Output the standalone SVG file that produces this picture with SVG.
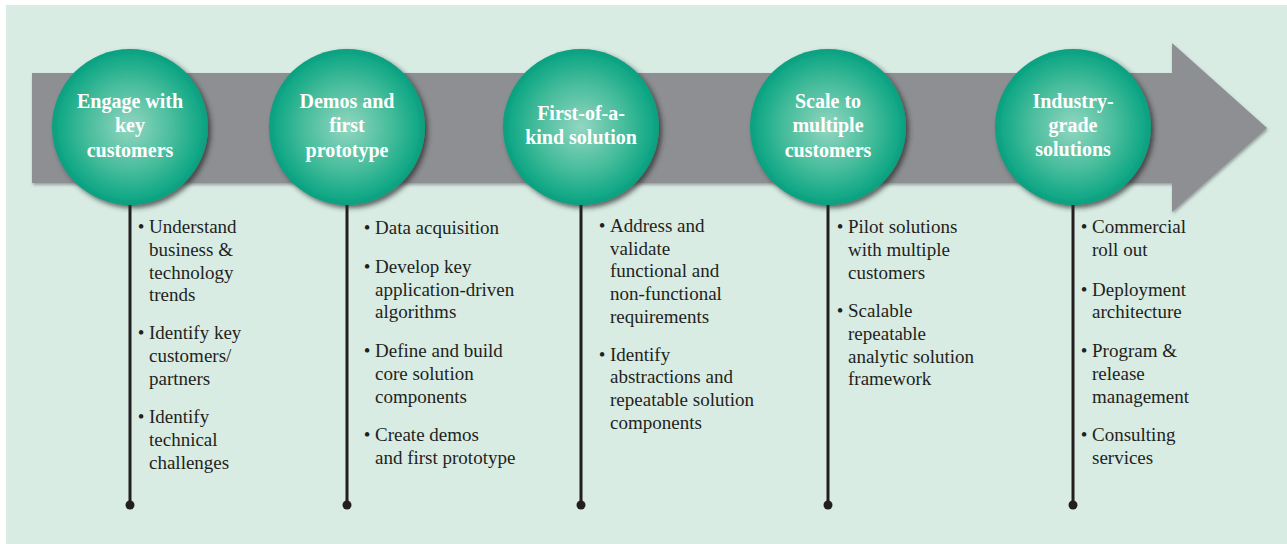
<svg xmlns="http://www.w3.org/2000/svg" width="1287" height="544" viewBox="0 0 1287 544">
<defs>
<radialGradient id="cg" cx="50%" cy="50%" r="50%">
<stop offset="0" stop-color="#92d6c0"/>
<stop offset="0.55" stop-color="#48bd9c"/>
<stop offset="0.9" stop-color="#14a987"/>
<stop offset="1" stop-color="#0a9f7f"/>
</radialGradient>
<filter id="cs" x="-20%" y="-20%" width="150%" height="150%">
<feDropShadow dx="3" dy="3" stdDeviation="2.5" flood-color="#2a2a2a" flood-opacity="0.7"/>
</filter>
<filter id="as" x="-5%" y="-10%" width="110%" height="130%">
<feDropShadow dx="1" dy="2" stdDeviation="1.5" flood-color="#555" flood-opacity="0.5"/>
</filter>
</defs>
<style>
.t{font-family:"Liberation Serif","Times New Roman",serif;font-size:19px;fill:#231f20}
.b{font-family:"Liberation Serif","Times New Roman",serif;font-size:19px;fill:#231f20;text-anchor:middle}
.h{font-family:"Liberation Serif","Times New Roman",serif;font-size:20px;font-weight:bold;fill:#ffffff;text-anchor:middle}
.ln{stroke:#231f20;stroke-width:3;fill:none}
.dot{fill:#231f20}
.circ{fill:url(#cg);filter:url(#cs)}
</style>
<rect x="0" y="0" width="1287" height="544" fill="#ffffff"/>
<rect x="6" y="5" width="1281" height="539" fill="#d8ece4"/>
<g id="arrow">
<polygon points="32,73 1172,73 1172,43 1267,128 1172,212 1172,183 32,183" fill="#8e8f93" filter="url(#as)"/>
</g>
<g id="connectors">
<line class="ln" x1="130" y1="200" x2="130" y2="505"/><circle class="dot" cx="130" cy="505" r="4.5"/>
<line class="ln" x1="347" y1="200" x2="347" y2="505"/><circle class="dot" cx="347" cy="505" r="4.5"/>
<line class="ln" x1="581" y1="200" x2="581" y2="505"/><circle class="dot" cx="581" cy="505" r="4.5"/>
<line class="ln" x1="828" y1="200" x2="828" y2="505"/><circle class="dot" cx="828" cy="505" r="4.5"/>
<line class="ln" x1="1073" y1="200" x2="1073" y2="505"/><circle class="dot" cx="1073" cy="505" r="4.5"/>
</g>
<g id="node1">
<circle class="circ" cx="130" cy="127" r="78"/>
<text class="h"><tspan x="130" y="108">Engage with</tspan><tspan x="130" y="132">key</tspan><tspan x="130" y="157">customers</tspan></text>
</g>
<g id="node2">
<circle class="circ" cx="347" cy="127" r="78"/>
<text class="h"><tspan x="347" y="108">Demos and</tspan><tspan x="347" y="132">first</tspan><tspan x="347" y="157">prototype</tspan></text>
</g>
<g id="node3">
<circle class="circ" cx="581" cy="127" r="78"/>
<text class="h"><tspan x="581" y="120">First-of-a-</tspan><tspan x="581" y="144">kind solution</tspan></text>
</g>
<g id="node4">
<circle class="circ" cx="828" cy="127" r="78"/>
<text class="h"><tspan x="828" y="108">Scale to</tspan><tspan x="828" y="132">multiple</tspan><tspan x="828" y="157">customers</tspan></text>
</g>
<g id="node5">
<circle class="circ" cx="1073" cy="127" r="78"/>
<text class="h"><tspan x="1073" y="108">Industry-</tspan><tspan x="1073" y="132">grade</tspan><tspan x="1073" y="156">solutions</tspan></text>
</g>
<g id="list1">
<text class="b" x="141" y="233">•</text>
<text class="t"><tspan x="149" y="233">Understand</tspan><tspan x="149" y="256">business &amp;</tspan><tspan x="149" y="278.5">technology</tspan><tspan x="149" y="301">trends</tspan></text>
<text class="b" x="141" y="339">•</text>
<text class="t"><tspan x="149" y="339">Identify key</tspan><tspan x="149" y="362">customers/</tspan><tspan x="149" y="385">partners</tspan></text>
<text class="b" x="141" y="423">•</text>
<text class="t"><tspan x="149" y="423">Identify</tspan><tspan x="149" y="446">technical</tspan><tspan x="149" y="469">challenges</tspan></text>
</g>
<g id="list2">
<text class="b" x="367" y="234">•</text>
<text class="t"><tspan x="375" y="234">Data acquisition</tspan></text>
<text class="b" x="367" y="273">•</text>
<text class="t"><tspan x="375" y="273">Develop key</tspan><tspan x="375" y="296">application-driven</tspan><tspan x="375" y="318">algorithms</tspan></text>
<text class="b" x="367" y="357">•</text>
<text class="t"><tspan x="375" y="357">Define and build</tspan><tspan x="375" y="380">core solution</tspan><tspan x="375" y="403">components</tspan></text>
<text class="b" x="367" y="441">•</text>
<text class="t"><tspan x="375" y="441">Create demos</tspan><tspan x="375" y="464">and first prototype</tspan></text>
</g>
<g id="list3">
<text class="b" x="602" y="232">•</text>
<text class="t"><tspan x="610" y="232">Address and</tspan><tspan x="610" y="255">validate</tspan><tspan x="610" y="277">functional and</tspan><tspan x="610" y="300">non-functional</tspan><tspan x="610" y="323">requirements</tspan></text>
<text class="b" x="602" y="361">•</text>
<text class="t"><tspan x="610" y="361">Identify</tspan><tspan x="610" y="383">abstractions and</tspan><tspan x="610" y="406">repeatable solution</tspan><tspan x="610" y="429">components</tspan></text>
</g>
<g id="list4">
<text class="b" x="840" y="233">•</text>
<text class="t"><tspan x="848" y="233">Pilot solutions</tspan><tspan x="848" y="256">with multiple</tspan><tspan x="848" y="279">customers</tspan></text>
<text class="b" x="840" y="317">•</text>
<text class="t"><tspan x="848" y="317">Scalable</tspan><tspan x="848" y="340">repeatable</tspan><tspan x="848" y="363">analytic solution</tspan><tspan x="848" y="385">framework</tspan></text>
</g>
<g id="list5">
<text class="b" x="1084" y="233">•</text>
<text class="t"><tspan x="1092" y="233">Commercial</tspan><tspan x="1092" y="256">roll out</tspan></text>
<text class="b" x="1084" y="296">•</text>
<text class="t"><tspan x="1092" y="296">Deployment</tspan><tspan x="1092" y="318">architecture</tspan></text>
<text class="b" x="1084" y="357">•</text>
<text class="t"><tspan x="1092" y="357">Program &amp;</tspan><tspan x="1092" y="380">release</tspan><tspan x="1092" y="403">management</tspan></text>
<text class="b" x="1084" y="441">•</text>
<text class="t"><tspan x="1092" y="441">Consulting</tspan><tspan x="1092" y="464">services</tspan></text>
</g>
</svg>
